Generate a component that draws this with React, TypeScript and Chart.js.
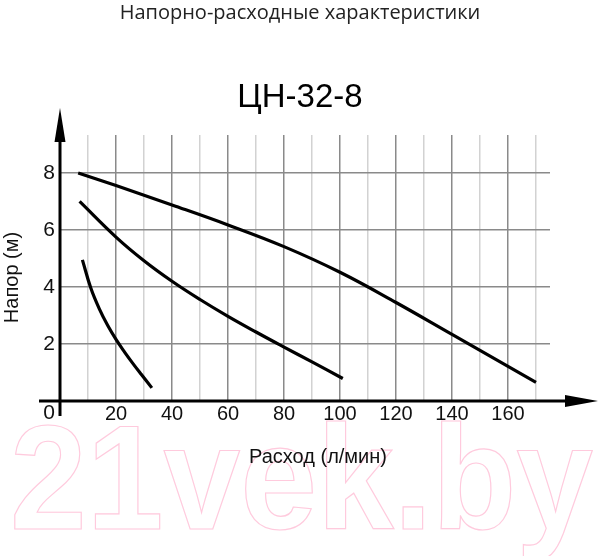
import { useEffect, useRef } from 'react';
import { Chart, registerables } from 'chart.js';

Chart.register(...registerables);

// ---- text ----
const chartTitle = 'Напорно-расходные характеристики';
const modelName = 'ЦН-32-8';
const xAxisTitle = 'Расход (л/мин)';
const yAxisTitle = 'Напор (м)';
const watermark = '21vek.by';

// ---- data (flow l/min -> head m) ----
const curve1X = [6.5, 20, 40, 60, 80, 100, 120, 140, 160, 170];
const curve1Y = [8.0, 7.555, 6.875, 6.175, 5.415, 4.515, 3.455, 2.335, 1.215, 0.655];
const curve2X = [7, 20, 30, 40, 50, 60, 70, 80, 90, 101];
const curve2Y = [7.0, 5.75, 4.92, 4.2, 3.56, 2.97, 2.42, 1.89, 1.37, 0.79];
const curve3X = [8, 11, 14, 17, 20, 23, 26, 29, 32.8];
const curve3Y = [4.95, 3.96, 3.24, 2.655, 2.16, 1.725, 1.32, 0.936, 0.46];

// ---- axes ----
const xMin = 0;
const xMax = 175;
const xStep = 10;
const xLabelStep = 20;
const yMin = 0;
const yMax = 9.33;
const yStep = 1;
const yLabelStep = 2;

const toPoints = (xs: number[], ys: number[]) => xs.map((x, i) => ({ x, y: ys[i] }));

const MAJOR = '#8a8a8a';
const MINOR = '#d2d2d2';

const decorations = {
  id: 'decorations',
  beforeDraw(chart: any) {
    const { ctx, width, height } = chart;
    ctx.save();
    ctx.fillStyle = '#ffffff';
    ctx.fillRect(0, 0, width, height);
    ctx.font = 'bold 148px "Liberation Sans", Arial, sans-serif';
    ctx.textAlign = 'left';
    ctx.textBaseline = 'alphabetic';
    ctx.strokeStyle = '#ffcadd';
    ctx.lineWidth = 1.2;
    ctx.strokeText(watermark, 10, 529, 583);
    ctx.restore();
  },
  afterDraw(chart: any) {
    const { ctx, chartArea } = chart;
    const x0 = chart.scales.x.getPixelForValue(0);
    const y0 = chart.scales.y.getPixelForValue(0);
    const top = chartArea.top;
    const right = chartArea.right;
    ctx.save();
    ctx.strokeStyle = '#000';
    ctx.fillStyle = '#000';
    ctx.lineWidth = 3;
    ctx.lineCap = 'butt';
    // y axis
    ctx.beginPath();
    ctx.moveTo(x0, y0 + 15);
    ctx.lineTo(x0, top + 4);
    ctx.stroke();
    ctx.beginPath();
    ctx.moveTo(x0, top - 27);
    ctx.lineTo(x0 - 5.5, top + 7);
    ctx.lineTo(x0 + 5.5, top + 7);
    ctx.closePath();
    ctx.fill();
    // x axis
    ctx.beginPath();
    ctx.moveTo(x0 - 21, y0);
    ctx.lineTo(right + 18, y0);
    ctx.stroke();
    ctx.beginPath();
    ctx.moveTo(right + 48, y0);
    ctx.lineTo(right + 15, y0 - 6);
    ctx.lineTo(right + 15, y0 + 6);
    ctx.closePath();
    ctx.fill();
    // axis titles
    ctx.font = '20px "Liberation Sans", Arial, sans-serif';
    ctx.fillStyle = '#111';
    ctx.textAlign = 'center';
    ctx.textBaseline = 'middle';
    ctx.fillText(xAxisTitle, 318, 457);
    ctx.translate(12.5, 277.5);
    ctx.rotate(-Math.PI / 2);
    ctx.fillText(yAxisTitle, 0, 0);
    ctx.restore();
  },
};

export default function App() {
  const ref = useRef<HTMLCanvasElement | null>(null);
  useEffect(() => {
    if (!ref.current) return;
    const line = (xs: number[], ys: number[]) => ({
      data: toPoints(xs, ys),
      borderColor: '#000',
      backgroundColor: '#000',
      borderWidth: 3.2,
      pointRadius: 0,
      tension: 0.4,
      fill: false,
    });
    const chart = new Chart(ref.current, {
      type: 'line',
      data: {
        datasets: [line(curve1X, curve1Y), line(curve2X, curve2Y), line(curve3X, curve3Y)],
      },
      options: {
        animation: false,
        responsive: true,
        maintainAspectRatio: false,
        devicePixelRatio: 1,
        layout: { padding: 0 },
        plugins: {
          legend: { display: false },
          tooltip: { enabled: false },
          title: {
            display: true,
            text: chartTitle,
            color: '#222',
            font: { family: '"Open Sans", sans-serif', size: 20, weight: 'normal' },
            padding: { top: 1, bottom: 0 },
          },
          subtitle: {
            display: true,
            text: modelName,
            color: '#000',
            font: { family: '"Liberation Sans", Arial, sans-serif', size: 33 },
            padding: { top: 53.2, bottom: 17.2 },
          },
        },
        scales: {
          x: {
            type: 'linear',
            min: xMin,
            max: xMax,
            border: { display: false },
            grid: {
              drawTicks: false,
              lineWidth: 1.5,
              color: (c: any) => (c.tick && c.tick.value % xLabelStep === 0 ? MAJOR : MINOR),
            },
            ticks: {
              stepSize: xStep,
              includeBounds: false,
              autoSkip: false,
              maxRotation: 0,
              padding: 1,
              color: '#111',
              font: { family: '"Liberation Sans", Arial, sans-serif', size: 20 },
              callback: (v: any) => (v > 0 && v % xLabelStep === 0 ? String(v) : ''),
            },
            afterFit: (s: any) => {
              s.height = 155;
              s.paddingRight = 50;
              s.paddingLeft = 0;
            },
          },
          y: {
            type: 'linear',
            min: yMin,
            max: yMax,
            border: { display: false },
            grid: {
              drawTicks: false,
              lineWidth: 1.5,
              color: (c: any) => (c.tick && c.tick.value % yLabelStep === 0 ? MAJOR : MINOR),
            },
            ticks: {
              stepSize: yStep,
              includeBounds: false,
              padding: 5,
              color: '#111',
              font: { family: '"Liberation Sans", Arial, sans-serif', size: 21 },
              callback: (v: any) =>
                v === 0 ? ['', '0'] : v % yLabelStep === 0 ? String(v) : '',
            },
            afterFit: (s: any) => {
              s.width = 60;
            },
          },
        },
      },
      plugins: [decorations],
    });
    return () => chart.destroy();
  }, []);
  return (
    <div style={{ position: 'fixed', left: 0, top: 0, width: 600, height: 556 }}>
      <canvas ref={ref} />
    </div>
  );
}
